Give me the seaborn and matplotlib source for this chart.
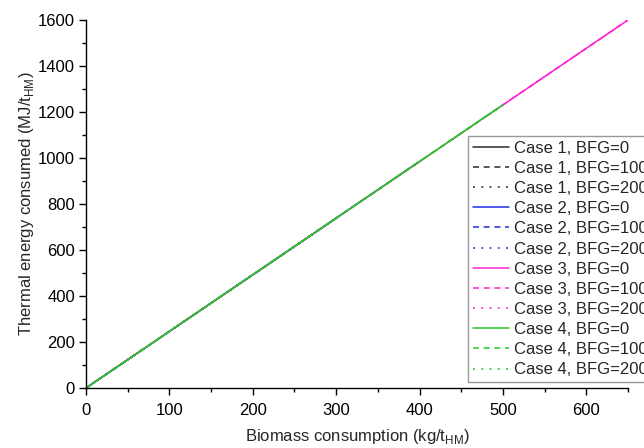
import matplotlib
matplotlib.use("Agg")
import matplotlib.pyplot as plt
from matplotlib.ticker import MultipleLocator
import seaborn as sns
import pandas as pd

sns.set_theme(style="ticks")
plt.rcParams["font.family"] = ["Liberation Sans", "DejaVu Sans"]
plt.rcParams["mathtext.fontset"] = "custom"
plt.rcParams["mathtext.rm"] = "Liberation Sans"

# Endpoints of each straight-line series (biomass kg/tHM -> thermal energy MJ/tHM)
cases = ["Case 1", "Case 2", "Case 3", "Case 4"]
bfg_levels = [0, 100, 200]
case_colors = ["#2a2a2a", "#1f2ee6", "#ff22d2", "#22cc22"]
bfg_styles = ["-", (0, (3.9, 3.1)), (0, (1.3, 4.1))]

biomass_case1 = [0, 300]
energy_case1 = [0, 738]
biomass_case2 = [0, 400]
energy_case2 = [0, 985]
biomass_case3 = [0, 650]
energy_case3 = [0, 1600]
biomass_case4 = [0, 500]
energy_case4 = [0, 1231]

biomass = [biomass_case1, biomass_case2, biomass_case3, biomass_case4]
energy = [energy_case1, energy_case2, energy_case3, energy_case4]

rows = []
for c, bx, ey in zip(cases, biomass, energy):
    for b in bfg_levels:
        for x, y in zip(bx, ey):
            rows.append({"case": c, "bfg": b, "biomass": x, "energy": y})
df = pd.DataFrame(rows)

fig = plt.figure(figsize=(6.44, 4.48), dpi=100)
ax = fig.add_axes([86 / 644, 60 / 448, 542 / 644, 368 / 448])

for c, col in zip(cases, case_colors):
    for b, ls in zip(bfg_levels, bfg_styles):
        sub = df[(df["case"] == c) & (df["bfg"] == b)]
        sns.lineplot(data=sub, x="biomass", y="energy", ax=ax, color=col,
                     linestyle=ls, linewidth=1.1, label=f"{c}, BFG={b}",
                     legend=False)

ax.set_xlim(0, 650)
ax.set_ylim(0, 1600)
ax.xaxis.set_major_locator(MultipleLocator(100))
ax.xaxis.set_minor_locator(MultipleLocator(50))
ax.yaxis.set_major_locator(MultipleLocator(200))
ax.yaxis.set_minor_locator(MultipleLocator(100))
ax.tick_params(axis="both", which="major", direction="out", length=5, width=1,
               labelsize=12, colors="black")
ax.tick_params(axis="x", which="major", pad=6)
ax.tick_params(axis="y", which="major", pad=3)
ax.tick_params(axis="both", which="minor", direction="out", length=3, width=1,
               colors="black")
sns.despine(ax=ax)
for s in ["left", "bottom"]:
    ax.spines[s].set_color("black")
    ax.spines[s].set_linewidth(1)

ax.set_xlabel(r"Biomass consumption (kg/t$_\mathregular{HM}$)", fontsize=12, labelpad=6)
ax.set_ylabel(r"Thermal energy consumed (MJ/t$_\mathregular{HM}$)", fontsize=12, labelpad=1)

handles, labels = ax.get_legend_handles_labels()
leg = fig.legend(handles, labels, loc="upper left",
                 bbox_to_anchor=(468 / 644, 1 - 136 / 448),
                 fontsize=12, frameon=True, fancybox=False, framealpha=1,
                 edgecolor="#999999", handlelength=2.15, handletextpad=0.33,
                 labelspacing=0.31, borderpad=0.28, borderaxespad=0)
leg.get_frame().set_linewidth(1)

fig.savefig("out.png", dpi=100)
